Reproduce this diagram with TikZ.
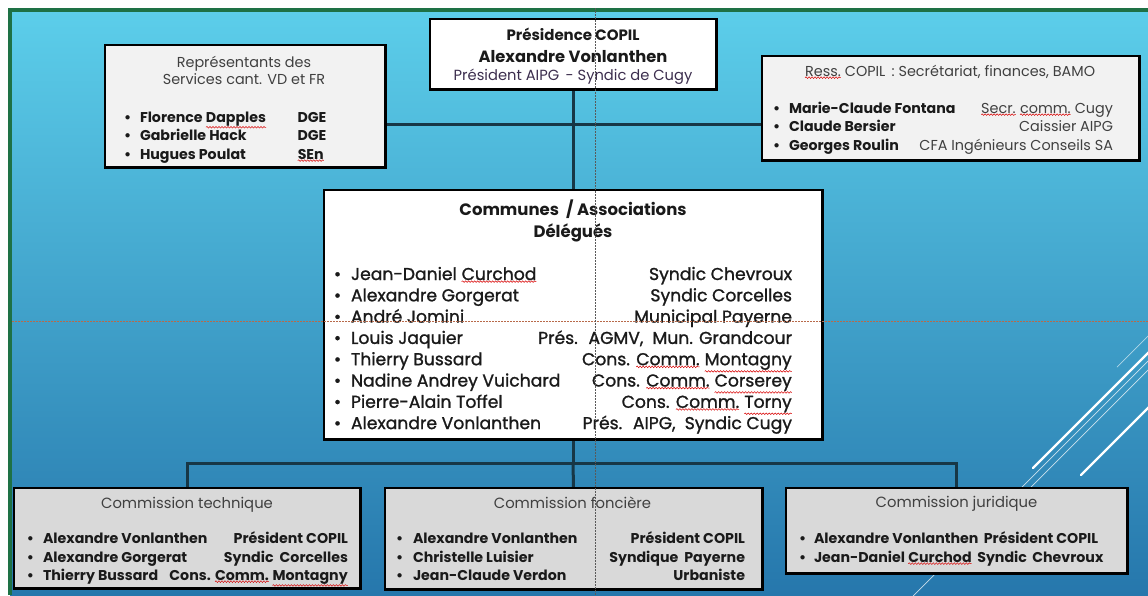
\documentclass[tikz,border=0pt]{standalone}
\usepackage{fontspec}
\setmainfont{Poppins}
\newfontfamily\popsemi{Poppins}[FakeBold=1.2]
\usetikzlibrary{decorations.pathmorphing}
\definecolor{bgtop}{HTML}{5CCEEA}
\definecolor{bgbot}{HTML}{2677AC}
\definecolor{framegreen}{HTML}{1E7145}
\definecolor{conncol}{HTML}{173746}
\definecolor{boxlight}{HTML}{F2F2F2}
\definecolor{boxgray}{HTML}{D9D9D9}
\definecolor{txt}{HTML}{1A1A1A}
\definecolor{ttl}{HTML}{404040}
\definecolor{subcol}{HTML}{3C2E4E}
\definecolor{guideo}{HTML}{B86A4A}
\newcommand\sq[1]{\tikz[baseline=(sqw.base)]{\node[inner sep=0pt,outer sep=0pt](sqw){#1};\draw[red!85!black,line width=0.5pt,decorate,decoration={snake,amplitude=0.8pt,segment length=3pt}]([yshift=-1.5pt]sqw.south west)--([yshift=-1.5pt]sqw.south east);}}
\newcommand\prow[9]{%
  \node[#8,anchor=base west] (#1b) at (#3,#2) {\textbullet};
  \node[#8,anchor=base west] (#1n) at (#4,#2) {#5};
  \node[#9,anchor=base east] (#1r) at (#6,#2) {#7};}
\tikzset{
  box/.style={draw=black,line width=2.6pt,inner sep=0pt},
  conn/.style={draw=conncol,line width=3pt},
  lbl/.style={inner sep=0pt,outer sep=0pt,text=txt},
  ptitle/.style={lbl,font=\bfseries\fontsize{15}{17}\selectfont},
  pname/.style={lbl,font=\bfseries\fontsize{16.3}{18}\selectfont},
  psub/.style={lbl,text=subcol,font=\fontsize{14.7}{17}\selectfont},
  stitle/.style={lbl,text=ttl,font=\fontsize{14.4}{16}\selectfont},
  sname/.style={lbl,font=\bfseries\fontsize{14.2}{16}\selectfont},
  srole/.style={lbl,text=ttl,font=\fontsize{14.4}{16}\selectfont},
  ctitle/.style={lbl,font=\bfseries\fontsize{16.5}{19}\selectfont},
  crow/.style={lbl,font=\popsemi\fontsize{17.2}{20}\selectfont},
  btitle/.style={lbl,text=ttl,font=\fontsize{14.8}{17}\selectfont},
  guide/.style={line width=0.6pt,dash pattern=on 1.5pt off 1.5pt},
  wline/.style={white,line cap=round},
}
\begin{document}
\begin{tikzpicture}[x=1pt,y=-1pt]
\useasboundingbox (0,0) rectangle (1148,595);
% background
\fill[white] (0,0) rectangle (1148,595);
\shade[top color=bgtop,bottom color=bgbot] (10,10) rectangle (1148,595);
\draw[framegreen,line width=4pt] (10,595) -- (10,10) -- (1148,10);
% white decorative lines
\draw[wline,line width=2.4pt] (1033,468) -- (1151,350);
\draw[wline,line width=2.4pt] (1081,475) -- (1151,405);
\draw[wline,line width=0.7pt,opacity=0.75] (913,596) -- (1151,358);
\draw[wline,line width=0.7pt,opacity=0.75] (1031,487) -- (1151,367);
\draw[wline,line width=0.7pt,opacity=0.6] (1117,367) -- (1151,333);
% box nodes (outline geometry)
\node[minimum width=286pt,minimum height=70pt,inner sep=0pt] (pres) at (573,54) {};
\node[minimum width=280pt,minimum height=122pt,inner sep=0pt] (rep) at (245,106) {};
\node[minimum width=377pt,minimum height=104pt,inner sep=0pt] (ress) at (950.5,108) {};
\node[minimum width=498pt,minimum height=249pt,inner sep=0pt] (comm) at (573,314.5) {};
\node[minimum width=346pt,minimum height=100pt,inner sep=0pt] (tech) at (187,538) {};
\node[minimum width=377pt,minimum height=101pt,inner sep=0pt] (fonc) at (573.5,538.5) {};
\node[minimum width=341pt,minimum height=85pt,inner sep=0pt] (jur) at (956.5,530.5) {};
% connectors
\coordinate (hl) at (573,124);
\coordinate (bj) at (573,463);
\draw[conn] (pres.south) -- (comm.north);
\draw[conn] (rep.east |- hl) -- (ress.west |- hl);
\draw[conn] (comm.south) -- (bj);
\draw[conn] (tech.north) -- (tech.north |- bj) -- (jur.north |- bj) -- (jur.north);
\draw[conn] (bj) -- (fonc.north);
% boxes drawn over the connectors
\draw[box,fill=white] (pres.south west) rectangle (pres.north east);
\draw[box,fill=boxlight] (rep.south west) rectangle (rep.north east);
\draw[box,fill=boxlight] (ress.south west) rectangle (ress.north east);
\draw[box,fill=white] (comm.south west) rectangle (comm.north east);
\draw[box,fill=boxgray] (tech.south west) rectangle (tech.north east);
\draw[box,fill=boxgray] (fonc.south west) rectangle (fonc.north east);
\draw[box,fill=boxgray] (jur.south west) rectangle (jur.north east);
% top box text
\node[ptitle,anchor=base] (pt1) at (573,40) {Présidence COPIL};
\node[pname,anchor=base] (pt2) at (573,62) {Alexandre Vonlanthen};
\node[psub,anchor=base] (pt3) at (573,80) {Président AIPG \,- Syndic de Cugy};
% left box
\node[stitle,anchor=base] (rt1) at (244,67) {Représentants des};
\node[stitle,anchor=base] (rt2) at (244,84) {Services cant. VD et FR};
\prow{ra}{122}{124}{140}{Florence \sq{Dapples}}{328}{\rlap{\hspace{-30pt}DGE}}{sname}{sname}
\prow{rb}{140}{124}{140}{Gabrielle Hack}{328}{\rlap{\hspace{-30pt}DGE}}{sname}{sname}
\prow{rc}{159}{124}{140}{Hugues Poulat}{328}{\rlap{\hspace{-30pt}\sq{SEn}}}{sname}{sname}
% right box
\node[stitle,anchor=base] (st1) at (950,76) {\sq{Ress.} COPIL \,: Secrétariat, finances, BAMO};
\prow{sa}{113}{773}{789}{Marie-Claude Fontana}{1113}{\sq{Secr.} \sq{comm.} Cugy}{sname}{srole}
\prow{sb}{131}{773}{789}{Claude Bersier}{1113}{Caissier AIPG}{sname}{srole}
\prow{sc}{150}{773}{789}{Georges Roulin}{1113}{CFA Ingénieurs Conseils SA}{sname}{srole}
% center box
\node[ctitle,anchor=base] (ct1) at (573,215) {Communes \ / Associations};
\node[ctitle,anchor=base] (ct2) at (573,237) {Délégués};
\prow{ca}{280}{334}{351}{Jean-Daniel \sq{Curchod}}{792}{Syndic Chevroux}{crow}{crow}
\prow{cb}{301.3}{334}{351}{Alexandre Gorgerat}{792}{Syndic Corcelles}{crow}{crow}
\prow{cc}{322.6}{334}{351}{André Jomini}{792}{Municipal Payerne}{crow}{crow}
\prow{cd}{343.9}{334}{351}{Louis Jaquier}{792}{Prés. \ AGMV, \ Mun. Grandcour}{crow}{crow}
\prow{ce}{365.2}{334}{351}{Thierry Bussard}{792}{Cons. \sq{Comm.} \sq{Montagny}}{crow}{crow}
\prow{cf}{386.5}{334}{351}{Nadine Andrey Vuichard}{792}{Cons. \sq{Comm.} \sq{Corserey}}{crow}{crow}
\prow{cg}{407.8}{334}{351}{Pierre-Alain Toffel}{792}{Cons. \sq{Comm.} \sq{Torny}}{crow}{crow}
\prow{ch}{429.1}{334}{351}{Alexandre Vonlanthen}{792}{Prés. \ AIPG, \ Syndic Cugy}{crow}{crow}
% commission technique
\node[btitle,anchor=base] (tt1) at (187,508) {Commission technique};
\prow{ta}{543}{27}{43}{Alexandre Vonlanthen}{348}{Président COPIL}{sname}{sname}
\prow{tb}{562}{27}{43}{Alexandre Gorgerat}{348}{Syndic \ Corcelles}{sname}{sname}
\prow{tc}{580}{27}{43}{Thierry Bussard}{348}{Cons. \sq{Comm.} \sq{Montagny}}{sname}{sname}
% commission fonciere
\node[btitle,anchor=base] (ft1) at (572.5,508) {Commission foncière};
\prow{fa}{543}{396}{413}{Alexandre Vonlanthen}{745}{Président COPIL}{sname}{sname}
\prow{fb}{562}{396}{413}{Christelle Luisier}{745}{Syndique \ Payerne}{sname}{sname}
\prow{fc}{580}{396}{413}{Jean-Claude Verdon}{745}{Urbaniste}{sname}{sname}
% commission juridique
\node[btitle,anchor=base] (jt1) at (956.5,507) {Commission juridique};
\node[sname,anchor=base west] (jab) at (799,543) {\textbullet};
\node[sname,anchor=base west] (jan) at (814,543) {Alexandre Vonlanthen \,Président COPIL};
\node[sname,anchor=base west] (jbb) at (799,562) {\textbullet};
\node[sname,anchor=base west] (jbn) at (814,562) {Jean-Daniel \sq{Curchod} \,Syndic \,Chevroux};
% guides
\draw[guide,draw=guideo] (12,321) -- (1148,321);
\draw[guide,draw=black!65] (595,8) -- (595,595);
\end{tikzpicture}
\end{document}
